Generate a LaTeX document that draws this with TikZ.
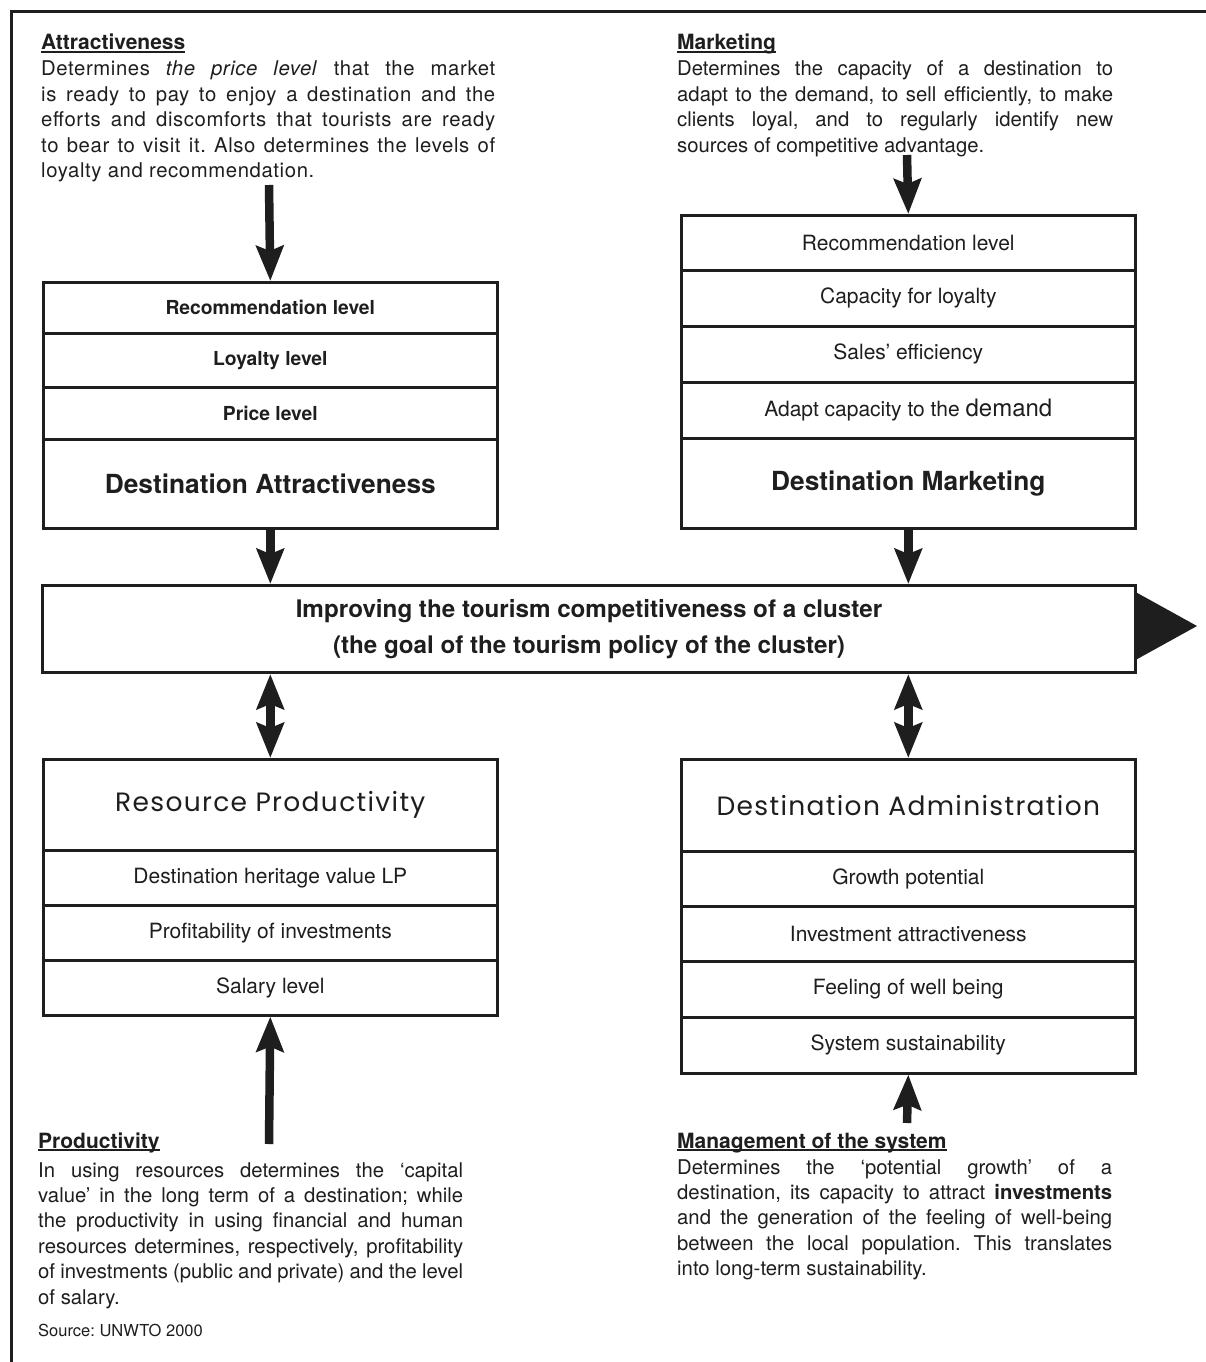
\documentclass[tikz,border=0pt]{standalone}
\usepackage{fontspec}
\setmainfont{TeX Gyre Heros}
\newfontfamily\trackfont[LetterSpace=3]{TeX Gyre Heros}
\newfontfamily\geofont[LetterSpace=5]{Poppins}
\usetikzlibrary{arrows.meta}
\newcommand\headul[1]{\setbox0=\hbox{#1}\rlap{\rule[-2.6pt]{\wd0}{2pt}}\box0}
\definecolor{ink}{HTML}{1E1E1E}
\frenchspacing
\tikzset{
  every node/.style={text=ink},
  rowbox/.style={draw=ink, line width=2.6pt, anchor=north west, inner sep=0pt, minimum width=454pt, align=center},
  itemA/.style={rowbox, font=\fontsize{19.3}{22}\selectfont\bfseries},
  itemB/.style={rowbox, font=\fontsize{21}{24}\selectfont},
  titleA/.style={rowbox, font=\fontsize{26.3}{30}\selectfont\bfseries},
  titleB/.style={rowbox, font=\fontsize{26.5}{30}\selectfont\geofont},
  body/.style={anchor=base west, inner sep=0pt, align=justify, font=\fontsize{20.3}{25.4}\selectfont},
  head/.style={anchor=base west, inner sep=0pt, font=\fontsize{21}{25}\selectfont\bfseries},
  bigarrow/.style={draw=ink, line width=8.5pt, -{Stealth[length=35pt,width=27pt,inset=5pt]}},
  dblarrow/.style={draw=ink, line width=8.5pt, {Stealth[length=35pt,width=27pt,inset=5pt]}-{Stealth[length=35pt,width=27pt,inset=5pt]}},
}
\begin{document}
\begin{tikzpicture}[x=1pt,y=-1pt]
\useasboundingbox (0,0) rectangle (1206,1362);
\fill[white] (0,0) rectangle (1206,1362);
\draw[ink, line width=3pt] (11,1362) -- (11,12) -- (1206,12);

% top-left text
\node[head] (hA) at (41,50) {\headul{Attractiveness}};
\node[body, text width=454pt] (tA) at (41,76) {\trackfont Determines \textit{the price level} that the market\linebreak is ready to pay to enjoy a destination and the\linebreak efforts and discomforts that tourists are ready\linebreak to bear to visit it. Also determines the levels of\linebreak loyalty and recommendation.};

% top-right text
\node[head] (hM) at (677,50) {\headul{Marketing}};
\node[body, text width=436pt] (tM) at (677,76) {Determines the capacity of a destination to\linebreak adapt to the demand, to sell efficiently, to make\linebreak clients loyal, and to regularly identify new\linebreak sources of competitive advantage.};

% left top box
\node[itemA, minimum height=51pt] (L1) at (42,281) {Recommendation level};
\node[itemA, minimum height=54pt] (L2) at (42,332) {Loyalty level};
\node[itemA, minimum height=52pt] (L3) at (42,386) {Price level};
\node[titleA, minimum height=89pt] (L4) at (42,438) {Destination Attractiveness};

% right top box
\node[itemB, minimum height=55pt] (R1) at (680,214) {Recommendation level};
\node[itemB, minimum height=56pt] (R2) at (680,269) {Capacity for loyalty};
\node[itemB, minimum height=56pt] (R3) at (680,325) {Sales’ efficiency};
\node[itemB, minimum height=56pt] (R4) at (680,381) {Adapt capacity to the {\fontsize{24}{28}\selectfont demand}};
\node[titleA, minimum height=90pt] (R5) at (680,437) {Destination Marketing};

% center box
\node[draw=ink, line width=3pt, anchor=north west, minimum width=1093pt, minimum height=87pt, inner sep=0pt, align=center, font=\fontsize{24.2}{36}\selectfont\bfseries] (C) at (41,584) {Improving the tourism competitiveness of a cluster\\(the goal of the tourism policy of the cluster)};
\fill[ink] (1135.5,592) -- (1197,626) -- (1135.5,660) -- cycle;

% bottom-left box
\node[titleB, minimum height=91pt] (BL1) at (42,758) {Resource Productivity};
\node[itemB, minimum height=55pt] (BL2) at (42,849) {Destination heritage value LP};
\node[itemB, minimum height=55pt] (BL3) at (42,904) {Profitability of investments};
\node[itemB, minimum height=55pt] (BL4) at (42,959) {Salary level};

% bottom-right box
\node[titleB, minimum height=92pt] (BR1) at (680,758) {Destination Administration};
\node[itemB, minimum height=55pt] (BR2) at (680,850) {Growth potential};
\node[itemB, minimum height=55pt] (BR3) at (680,905) {Investment attractiveness};
\node[itemB, minimum height=56pt] (BR4) at (680,960) {Feeling of well being};
\node[itemB, minimum height=56pt] (BR5) at (680,1016) {System sustainability};

% arrows
\coordinate (sA) at (269,185);
\draw[bigarrow] (sA) -- (L1.north);
\coordinate (sM) at (907,155);
\draw[bigarrow] (sM) -- (R1.north);
\draw[bigarrow] (L4.south) -- (L4.south |- C.north);
\draw[bigarrow] (R5.south) -- (R5.south |- C.north);
\draw[dblarrow] (C.south -| BL1.north) -- (BL1.north);
\draw[dblarrow] (C.south -| BR1.north) -- (BR1.north);
\coordinate (sP) at (269,1144);
\draw[bigarrow] (sP) -- (BL4.south);
\coordinate (sS) at (907,1123);
\draw[bigarrow] (sS) -- (BR5.south);

% bottom texts
\node[head] (hP) at (38,1148) {\headul{Productivity}};
\node[body, text width=425pt] (tP) at (38,1177) {In using resources determines the ‘capital\linebreak value’ in the long term of a destination; while\linebreak the productivity in using financial and human\linebreak resources determines, respectively, profitability\linebreak of investments (public and private) and the level\linebreak of salary.};
\node[anchor=base west, inner sep=0pt, font=\fontsize{16.5}{20}\selectfont] (src) at (38,1336) {Source: UNWTO 2000};

\node[head] (hS) at (677,1148) {\headul{Management of the system}};
\node[body, text width=435pt] (tS) at (677,1174) {Determines the ‘potential growth’ of a\linebreak destination, its capacity to attract \textbf{investments}\linebreak and the generation of the feeling of well-being\linebreak between the local population. This translates\linebreak into long-term sustainability.};
\end{tikzpicture}
\end{document}
